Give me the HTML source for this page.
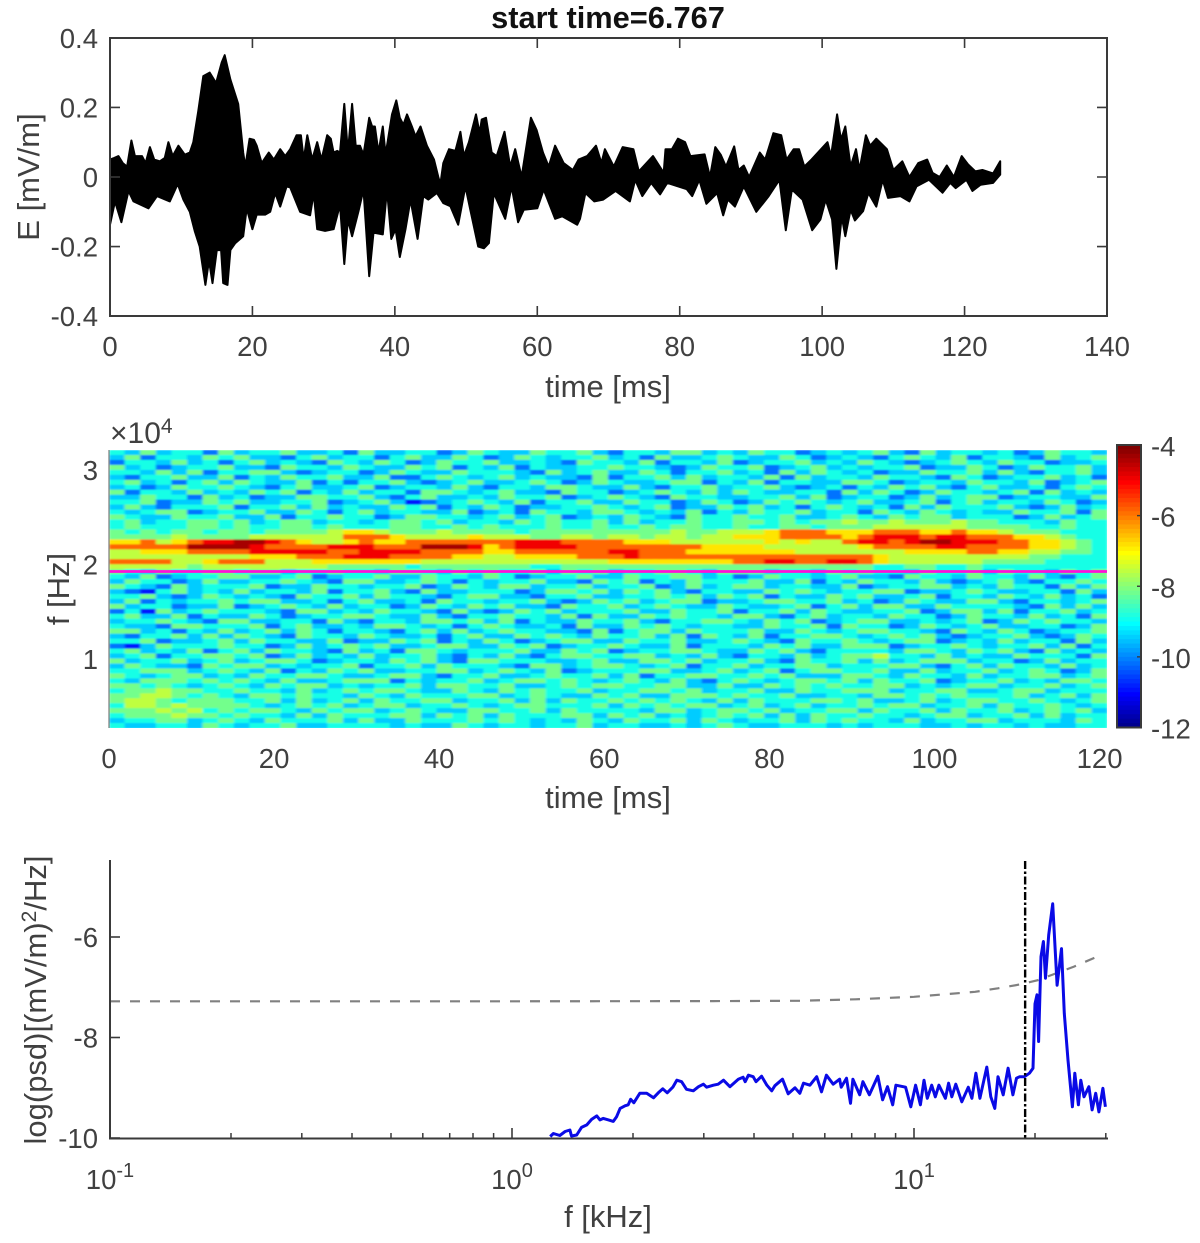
<!DOCTYPE html>
<html>
<head>
<meta charset="utf-8">
<title>start time=6.767</title>
<style>
html,body{margin:0;padding:0;background:#fff;}
svg{display:block;}
text{font-family:"Liberation Sans",Arial,sans-serif;fill:#404040;}
.tick{font-size:27.5px;}
.lab{font-size:31px;}
</style>
</head>
<body>
<svg id="fig" xmlns="http://www.w3.org/2000/svg" width="1200" height="1243" viewBox="0 0 1200 1243">
  <defs>
    <clipPath id="heat-clip"><rect x="109" y="450" width="998" height="278"/></clipPath>
    <clipPath id="psd-clip"><rect x="110" y="855" width="999" height="284"/></clipPath>
    <filter id="soft" x="-2%" y="-2%" width="104%" height="104%"><feGaussianBlur stdDeviation="1.3 0.7"/></filter>
  </defs>
  <text x="608" y="28" text-anchor="middle" style="font-size:30.8px;font-weight:bold;fill:#111">start time=6.767</text>

  <g id="wave-panel"></g>
  <text class="lab" transform="translate(39,177) rotate(-90)" text-anchor="middle">E [mV/m]</text>
  <text class="lab" x="608" y="397" text-anchor="middle">time [ms]</text>

  <g id="heat-panel"></g>
  <text x="110" y="443" style="font-size:30px">×10<tspan dy="-10" style="font-size:21px">4</tspan></text>
  <text class="lab" transform="translate(69,589) rotate(-90)" text-anchor="middle">f [Hz]</text>
  <text class="lab" x="608" y="808" text-anchor="middle">time [ms]</text>

  <g id="psd-panel"></g>
  <text class="lab" transform="translate(46,1000) rotate(-90)" text-anchor="middle">log(psd)[(mV/m)<tspan dy="-10" style="font-size:21px">2</tspan><tspan dy="10">/Hz]</tspan></text>
  <text class="lab" x="608" y="1227" text-anchor="middle">f [kHz]</text>
</svg>
<script>
/* ---------- waveform data (mV/m envelope vs ms) ---------- */
var upperT=[0,.6,1.2,1.8,2.4,3,3.5,4.5,5,5.6,6.2,7,7.7,8.2,8.8,9.6,10.5,11.2,11.7,12.4,13.1,14,14.9,15.7,16.1,16.9,18,18.7,19,19.6,20.2,20.6,21.3,22.3,23,23.9,24.6,25.3,26.2,26.8,27.2,27.7,28.4,29.1,29.7,30.5,31,31.4,31.9,32.3,32.9,33.4,34,34.5,35.1,35.6,36.4,36.8,37.2,37.7,38.3,38.7,39.6,40.2,40.7,41.2,41.7,42.4,42.9,43.6,44.5,45.5,46.1,46.4,46.8,47.6,48.5,49.2,49.7,50.4,51.4,51.9,52.2,52.8,53.6,54.3,55.4,56.2,56.9,57.8,59.1,59.9,60.8,61.6,62.5,63.7,65,65.8,67,68.25,69,69.5,70.75,72,73.5,74.25,76.25,77.75,78,78.9,79.75,80.75,81.5,83.5,84.25,85,85.75,86.5,87.65,88.25,89,89.75,91.25,92,93.15,94.25,95,96,96.75,97.5,98.5,100.75,101.25,102.1,102.65,103.25,104,104.75,105.25,106.15,106.75,107.6,109.1,110,111.25,112.25,113.5,114.75,115.5,116.5,117.5,118.5,119.6,120.5,121.5,122.5,124,125];
var upperV=[.05,.055,.06,.04,.03,.105,.06,.06,.04,.086,.05,.045,.055,.1,.06,.09,.064,.07,.1,.19,.29,.30,.27,.33,.35,.28,.21,.07,.03,.11,.107,.09,.04,.07,.05,.08,.06,.08,.12,.12,.05,.12,.05,.1,.05,.12,.11,.07,.075,.07,.21,.07,.21,.09,.09,.064,.17,.145,.145,.07,.145,.064,.18,.22,.17,.15,.18,.145,.117,.145,.09,.05,0,-.02,.04,.08,.075,.13,.06,.1,.18,.126,.165,.17,.07,.06,.13,.03,.08,0,.17,.135,.07,.03,.09,.04,.02,.05,.06,.09,.04,.08,.03,.086,.08,.016,.06,.012,.08,.08,.11,.1,.06,.065,0,.086,.064,.03,.088,.02,.033,0,.07,.05,.126,.12,.05,.08,.08,.03,.05,.1,.06,.18,.107,.145,.03,.08,.02,.12,.09,.11,.08,.02,.045,0,.04,.05,.012,0,.033,0,.06,.036,.016,.02,.01,.045];
var lowerT=[0,.7,1.6,2.6,3.3,5.4,6.6,8.4,9.5,10.3,11.2,11.9,12.6,13.4,13.9,14.4,15,15.6,15.9,16.5,16.9,17.6,18.7,19.2,20,20.6,21.8,22.5,23.2,23.9,24.8,25.3,26.7,28.1,28.6,29.1,30.2,31.4,32.3,32.9,33.4,34,34.9,35.6,36.4,37,38.3,38.9,39.5,40.1,40.7,41.5,42.2,43.2,44,44.7,45.9,46.8,47.8,48.9,49.9,50.6,51.7,52.5,53.2,53.9,55.5,56.4,57.3,58.1,60,60.9,62.5,63.5,65.6,66,66.75,68,69.25,71,73,73.75,74.75,76,77.25,78.25,81,81.75,82.75,83.75,85.25,86.1,86.75,87.75,89,90.75,92.5,94,94.9,95.75,97.25,98.6,99.75,100.5,101.4,102,102.75,103.25,104,104.6,105.75,106.5,107.6,108.5,109.25,111,112.25,113.25,115,116.9,118,118.75,120.25,121.1,122.25,124,125];
var lowerV=[-.137,-.07,-.13,-.04,-.07,-.09,-.055,-.07,-.02,-.065,-.1,-.155,-.2,-.31,-.24,-.305,-.21,-.21,-.305,-.31,-.21,-.19,-.17,-.09,-.15,-.108,-.108,-.1,-.046,-.085,-.027,-.03,-.1,-.11,-.046,-.15,-.155,-.15,-.08,-.25,-.122,-.17,-.098,-.036,-.285,-.16,-.165,-.036,-.178,-.15,-.23,-.15,-.065,-.178,-.055,-.065,-.046,-.075,-.084,-.137,-.027,-.094,-.2,-.205,-.19,-.046,-.12,-.027,-.13,-.094,-.09,-.036,-.12,-.113,-.137,-.12,-.046,-.07,-.065,-.04,-.07,-.008,-.055,-.017,-.05,-.017,-.035,-.055,-.008,-.077,-.046,-.11,-.065,-.085,-.027,-.1,-.055,-.008,-.153,-.036,-.065,-.153,-.122,-.065,-.122,-.264,-.113,-.17,-.094,-.125,-.098,-.046,-.085,-.008,-.06,-.055,-.07,-.027,-.008,-.045,-.017,-.032,-.008,-.04,-.022,-.017,.007];
var waveXTicks=[0,20,40,60,80,100,120,140];
var waveYTicks=[-0.4,-0.2,0,0.2,0.4];

/* ---------- spectrogram data: each row one frequency bin, top to bottom; char = level index ---------- */
var heatLevels=[-11.5,-10.8,-10.1,-9.4,-8.8,-8.1,-7.5,-6.8,-5.8,-4.9,-4.3];
var heatRows=[
"43534425 34453342 53344235 43354453 24435534 35442343 45325344 34235443",
"35244354 53324534 42453354 23543445 34253345 43354234 32454352 44325345",
"24435342 45343254 35423544 53343254 43524435 23445343 54323454 35442334",
"53423445 33254435 43354524 35243344 54432354 45234534 34452335 42354453",
"44353524 45532344 23543354 44325345 33542445 34253543 42335445 35324453",
"32445335 24354453 35224543 45343325 24453534 43525344 35443254 23445342",
"45342453 54335242 44532345 33454235 43345524 35244335 54234435 44352345",
"34235445 43245334 52344353 24435543 35324453 44532342 43545324 53342454",
"52443534 35452435 34425543 45332544 23454353 54334425 35423544 34525343",
"33544253 42335544 53245334 35445234 54325443 34453523 44235345 52344335",
"44523354 53344523 45312345 43524453 35442354 23545434 53345245 34435423",
"35324445 24453534 33545243 54233445 43452335 45342454 34253544 45323534",
"43455234 45335424 53443352 34254435 54343524 35445344 25435434 33544525",
"54335445 33524454 42355443 45345234 35432544 54453345 43545534 44235345",
"45344554 53455344 34554534 43545445 35344544 55454556 55655565 54443544",
"45444554 54455454 44554454 54445445 44545544 54455455 56666665 55544544",
"54545545 54555567 76555655 55455555 55556556 66788877 78887787 76555444",
"55556555 56666668 88766667 66655665 66566566 77788887 89998998 88776544",
"77867899 aa987667 87788888 88999888 87776666 66767668 9989aa99 98877654",
"88888aaa a9888899 9888aaa9 78999988 88888877 77666666 78888998 88877654",
"66777888 89999988 99998888 77888888 99888777 77776666 66677778 87766554",
"66666666 67778889 99888877 66777788 89888888 88888888 87666666 66655444",
"88886678 88666777 77776666 66666666 77777777 88998899 87666666 55554444",
"66666566 66666655 55545555 55544555 55555555 55555555 54455445 44444444",
"54354455 45534454 43554354 54453545 34455435 55344354 54435445 35443545",
"43523445 53345234 45335443 54234453 35445534 23544345 33254435 44353245",
"35442353 34454325 53345424 34453325 45243544 45335243 54435323 45324454",
"54325344 45233544 34452354 35534453 44523534 55344335 23445534 35442535",
"32145343 53443524 45325334 44235545 35453244 33545434 45523345 43344253",
"44532354 34325445 35443245 53324453 34454535 45243354 53345244 35435342",
"35243445 45533424 53342544 34453235 45345523 34554453 42354335 53244345",
"53442335 23454353 44235435 45332544 53454335 43345245 35533544 44325353",
"24153454 44325534 35443253 23545344 45335445 24453543 34452355 35244534",
"45335243 35423445 54335324 45443525 33545443 55324534 43544235 44353425",
"34454325 53344253 24435545 35243354 45324455 43545234 55334345 23545443",
"43325544 45245334 35543424 54334253 35454344 33544525 44235434 53344235",
"55342435 34535424 43245353 45443325 24553544 45335434 55443254 35423445",
"32445353 54325443 54334245 33545435 44535254 35244554 34545323 44532354",
"44523345 35443352 33545243 54234553 35445334 54325445 43455234 35344253",
"21354445 44235345 45334553 35452344 54335244 43545335 55234454 34453524",
"45343524 53544325 34255434 44533545 23445543 35453244 44355435 45325343",
"34524455 45235343 53445324 35324554 45534353 24435345 56443534 33544425",
"53445345 34554234 43545325 54443345 33554534 45325445 35345553 44235344",
"35433254 55343445 24453544 43255345 54345244 53445534 44553245 35443534",
"44555345 43524354 53344553 45435234 44553345 34524554 45335344 53454235",
"54345534 35445543 34553244 53345445 35244554 45453335 54354435 34455345",
"43555454 54353345 55243445 34554543 45435324 54345545 35445234 45343554",
"55454345 43545534 34453554 45334545 54455335 33545454 45534345 53445345",
"45565544 54435345 45543354 35454453 44554534 45335445 55344553 34553444",
"55665454 35545443 54354445 53454335 45335554 54453344 35545454 44534535",
"56654555 44535345 35445534 45353544 54545435 35444554 53345345 54454345",
"46656555 54345453 45534454 34554445 35454553 45345344 54553445 35445434",
"55565645 45543545 53454335 54453544 44355345 54534455 35445354 45345453",
"45556554 54435354 44553545 35444553 54534345 45353544 54434553 44535344",
"34455345 43544453 53354445 45434354 35445354 34453545 44353445 53444354",
"43344354 34453344 44343354 34434453 44334345 43344434 34443343 44343344"
];
var heatXTicks=[0,20,40,60,80,100,120];
var heatYTicks=[1,2,3];
var heatTMax=120.9;
var heatFTop=3.21;
var heatFBottom=0.27;
var cyclotronLineF=[1.925];
var cbarTicks=[-4,-6,-8,-10,-12];

/* ---------- PSD data ---------- */
var psdLogF=[.095,.103,.119,.132,.144,.148,.161,.173,.186,.198,.211,.219,.227,.240,.252,.260,.269,.281,.289,.295,.303,.318,.335,.352,.364,.375,.386,.400,.410,.422,.434,.451,.464,.476,.484,.501,.513,.526,.542,.563,.575,.580,.588,.600,.607,.621,.634,.646,.654,.673,.687,.704,.716,.725,.741,.758,.770,.782,.799,.815,.819,.832,.842,.848,.865,.873,.889,.910,.922,.934,.947,.955,.979,.992,1.004,1.016,1.025,1.033,1.044,1.053,1.062,1.078,1.086,1.094,1.104,1.119,1.135,1.144,1.154,1.164,1.181,1.191,1.201,1.209,1.222,1.234,1.246,1.255,1.263,1.275,1.287,1.296,1.301,1.306,1.310,1.316,1.322,1.327,1.335,1.345,1.356,1.367,1.374,1.383,1.394,1.400,1.409,1.415,1.423,1.435,1.443,1.452,1.460,1.470,1.476];
var psdV=[-9.97,-9.91,-9.95,-9.87,-9.84,-9.96,-9.94,-9.79,-9.74,-9.63,-9.56,-9.64,-9.61,-9.64,-9.67,-9.58,-9.41,-9.36,-9.34,-9.23,-9.30,-9.11,-9.11,-9.20,-9.10,-9.02,-9.10,-8.99,-8.85,-8.88,-9.03,-9.06,-8.98,-8.93,-8.99,-8.95,-8.93,-8.85,-8.98,-8.83,-8.79,-8.88,-8.75,-8.78,-8.88,-8.77,-8.95,-9.06,-8.96,-8.83,-9.12,-9.00,-9.11,-8.91,-8.95,-8.78,-9.08,-8.75,-8.93,-8.83,-8.99,-8.81,-9.31,-8.83,-9.14,-8.88,-9.14,-8.77,-9.24,-8.98,-9.34,-8.95,-8.99,-9.38,-8.95,-9.34,-8.85,-9.21,-8.95,-9.18,-8.95,-9.21,-8.91,-9.18,-8.93,-9.28,-8.99,-9.21,-8.71,-9.21,-8.59,-9.18,-9.41,-8.78,-9.14,-8.61,-9.14,-8.81,-8.78,-8.78,-8.71,-8.61,-7.33,-7.15,-8.08,-6.39,-6.09,-6.82,-5.96,-5.34,-6.96,-6.23,-7.52,-8.45,-9.38,-8.71,-9.34,-8.85,-9.18,-8.98,-9.44,-9.11,-9.48,-9.01,-9.38];
var noiseLogF=[-1,-.5,0,.5,.717,.855,1.0,1.152,1.209,1.267,1.308,1.398,1.456];
var noiseV=[-7.28,-7.28,-7.28,-7.275,-7.27,-7.24,-7.19,-7.09,-7.02,-6.94,-6.86,-6.59,-6.39];
var cutoffKHz=[18.9];
var psdXDecades=[-1,0,1];
var psdMinorMultipliers=[2,3,4,5,6,7,8,9];
var psdYTicks=[-6,-8,-10];

/* ---------- helpers ---------- */
var NS='http://www.w3.org/2000/svg';
function mk(parent,tag,attrs,txt){
  var el=document.createElementNS(NS,tag);
  for(var k in attrs){el.setAttribute(k,attrs[k]);}
  if(txt!==undefined){el.textContent=txt;}
  parent.appendChild(el);
  return el;
}
function jet(t){
  function c(v){return Math.round(255*Math.max(0,Math.min(1,v)));}
  var r=1.5-Math.abs(4*t-3),g=1.5-Math.abs(4*t-2),b=1.5-Math.abs(4*t-1);
  return 'rgb('+c(r)+','+c(g)+','+c(b)+')';
}
var AXC='#3a3a3a';

/* ---------- panel 1: waveform ---------- */
var wave=document.getElementById('wave-panel');
function waveX(t){return 110+t*(997/140);}
function waveY(v){return 177-v*348;}
var wavePts=[];
upperT.forEach(function(t,i){wavePts.push(waveX(t).toFixed(1)+','+waveY(upperV[i]).toFixed(1));});
for(var li=lowerT.length-1;li>=0;li--){wavePts.push(waveX(lowerT[li]).toFixed(1)+','+waveY(lowerV[li]).toFixed(1));}
var wavePoly=mk(wave,'polygon',{points:wavePts.join(' '),fill:'#000',stroke:'#000','stroke-width':2,'stroke-linejoin':'round'});


var waveBox=mk(wave,'rect',{x:110,y:38,width:997,height:278,fill:'none',stroke:AXC,'stroke-width':2});


waveXTicks.forEach(function(t){
  var x=waveX(t);
  var tk=mk(wave,'path',{d:'M'+x+' 316V306M'+x+' 38V48',stroke:AXC,'stroke-width':1.6,fill:'none'});
  
  
  var lb=mk(wave,'text',{x:x,y:356,'text-anchor':'middle','class':'tick'},String(t));
  
  
});
waveYTicks.forEach(function(v){
  var y=waveY(v);
  var tk=mk(wave,'path',{d:'M110 '+y+'H120M1107 '+y+'H1097',stroke:AXC,'stroke-width':1.6,fill:'none'});
  
  
  var lb=mk(wave,'text',{x:98,y:y+10,'text-anchor':'end','class':'tick'},String(v));
  
  
});

/* ---------- panel 2: spectrogram ---------- */
var heat=document.getElementById('heat-panel');
function heatX(t){return 109+t*(998/heatTMax);}
function heatY(f){return 450+(heatFTop-f)*(278/(heatFTop-heatFBottom));}
var heatClip=mk(heat,'g',{'clip-path':'url(#heat-clip)'});


var heatInner=mk(heatClip,'g',{filter:'url(#soft)'});


var nRows=heatRows.length;
var nCols=heatRows[0].replace(/ /g,'').length;
var dF=(heatFTop-heatFBottom)/nRows;
var dT=heatTMax/nCols;
heatRows.forEach(function(rowStr,r){
  var s=rowStr.replace(/ /g,'');
  for(var c=0;c<nCols;c++){
    var lvl=parseInt(s.charAt(c)||'4',11);
    var val=heatLevels[lvl];
    var t0=c*dT,f0=heatFTop-r*dF;
    var cell=mk(heatInner,'rect',{x:heatX(t0).toFixed(1),y:heatY(f0).toFixed(1),width:(heatX(t0+dT)-heatX(t0)+.6).toFixed(1),height:(heatY(f0-dF)-heatY(f0)+.6).toFixed(1),fill:jet((val+12)/8)});
    
    
  }
});
cyclotronLineF.forEach(function(f){
  var ln=mk(heat,'line',{x1:heatX(0),x2:heatX(heatTMax),y1:heatY(f),y2:heatY(f),stroke:'#ff10d8','stroke-width':2.8});
  
  
});
var heatLeft=mk(heat,'path',{d:'M109 450V728',stroke:'#7a7a7a','stroke-width':1.2,fill:'none'});


heatXTicks.forEach(function(t){
  var lb=mk(heat,'text',{x:heatX(t),y:768,'text-anchor':'middle','class':'tick'},String(t));
  
  
});
function heatTickY(v){return 659-(v-1)*94.5;}
heatYTicks.forEach(function(v){
  var lb=mk(heat,'text',{x:98,y:heatTickY(v)+10,'text-anchor':'end','class':'tick'},String(v));
  
  
});
/* colorbar */
function cbarY(v){return 445+(-4-v)*(282.5/8);}
var cbarSteps=64;
for(var i=0;i<cbarSteps;i++){
  var v1=-4-i*8/cbarSteps;
  var seg=mk(heat,'rect',{x:1117,y:cbarY(v1).toFixed(2),width:24,height:(282.5/cbarSteps+.5).toFixed(2),fill:jet((v1+12)/8)});
  
  
}
var cbarBox=mk(heat,'rect',{x:1117,y:445,width:24,height:282.5,fill:'none',stroke:'#3a3a3a','stroke-width':2});


cbarTicks.forEach(function(v){
  var y=cbarY(v);
  var tk=mk(heat,'path',{d:'M1141 '+y+'H1137',stroke:'#3a3a3a','stroke-width':1.4,fill:'none'});
  
  
  var lb=mk(heat,'text',{x:1151,y:y+11,'class':'tick'},String(v));
  
  
});

/* ---------- panel 3: PSD ---------- */
var psd=document.getElementById('psd-panel');
function psdX(lf){return 512+lf*402;}
function psdY(v){return 937-(v+6)*50.25;}
function pts(xs,ys){return xs.map(function(lf,i){return psdX(lf).toFixed(1)+','+psdY(ys[i]).toFixed(1);}).join(' ');}
var noise=mk(psd,'polyline',{points:pts(noiseLogF,noiseV),fill:'none',stroke:'#808080','stroke-width':2.2,'stroke-dasharray':'10 10'});


var psdLine=mk(psd,'polyline',{points:pts(psdLogF,psdV),fill:'none',stroke:'#0a0ae6','stroke-width':3,'stroke-linejoin':'round','clip-path':'url(#psd-clip)'});


cutoffKHz.forEach(function(f){
  var x=psdX(Math.log10(f));
  var ln=mk(psd,'line',{x1:x,x2:x,y1:861,y2:1138,stroke:'#000','stroke-width':2.4,'stroke-dasharray':'8 2.5 2.5 2.5'});
  
  
});
var psdAxes=mk(psd,'path',{d:'M110 860V1138.5H1108',fill:'none',stroke:AXC,'stroke-width':2});


psdXDecades.forEach(function(d){
  var x=psdX(d);
  var tk=mk(psd,'path',{d:'M'+x+' 1138V1128',stroke:AXC,'stroke-width':1.6,fill:'none'});
  
  
  var lb=mk(psd,'text',{x:x,y:1189,'text-anchor':'middle','class':'tick'});
  
  
  mk(lb,'tspan',{},'10');
  mk(lb,'tspan',{dy:-12,style:'font-size:20px'},String(d));
  psdMinorMultipliers.forEach(function(m){
    var lf=d+Math.log10(m);
    if(lf>1.477){return;}
    var mx=psdX(lf);
    var mt=mk(psd,'path',{d:'M'+mx.toFixed(1)+' 1138V1133',stroke:AXC,'stroke-width':1.5,fill:'none'});
    
    
  });
});
var lastMinor=mk(psd,'path',{d:'M'+psdX(Math.log10(30))+' 1138V1133',stroke:AXC,'stroke-width':1.5,fill:'none'});


psdYTicks.forEach(function(v){
  var y=psdY(v);
  var tk=mk(psd,'path',{d:'M110 '+y+'H120',stroke:AXC,'stroke-width':1.6,fill:'none'});
  
  
  var lb=mk(psd,'text',{x:98,y:y+10,'text-anchor':'end','class':'tick'},String(v));
  
  
});
</script>
</body>
</html>
